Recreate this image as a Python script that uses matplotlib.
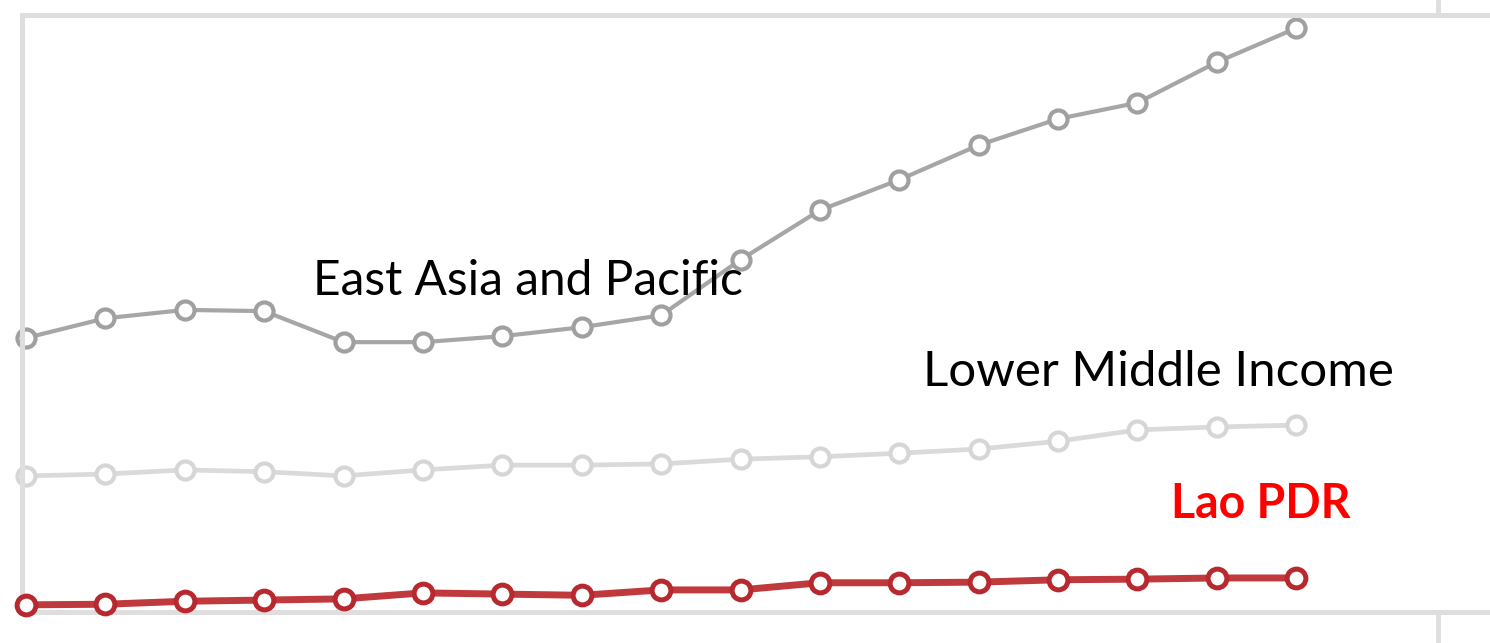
import numpy as np
import matplotlib.pyplot as plt

plt.rcParams['font.family'] = ['Lato', 'DejaVu Sans']

years = np.arange(17)
east_asia = [45.9, 49.2, 50.6, 50.4, 45.2, 45.2, 46.2, 47.7, 49.7, 59.0,
             67.3, 72.4, 78.2, 82.6, 85.3, 92.1, 97.8]
lower_middle = [22.8, 23.1, 23.8, 23.5, 22.8, 23.8, 24.6, 24.6, 24.8, 25.6,
                26.0, 26.6, 27.3, 28.6, 30.5, 31.0, 31.3]
lao_pdr = [1.2, 1.3, 1.8, 2.0, 2.2, 3.2, 3.0, 2.8, 3.7, 3.7,
           4.9, 4.9, 5.0, 5.4, 5.5, 5.7, 5.7]

fig = plt.figure(figsize=(14.9, 6.43), dpi=100)
ax = fig.add_axes([22/1490, 31/643, 1 - 22/1490, 597/643])

frame = '#dedede'
ax.plot(years, east_asia, '-o', color='#a6a6a6', lw=3.0, ms=13,
        mfc='white', mec='#a0a0a0', mew=3.0, clip_on=False)
ax.plot(years, lower_middle, '-o', color='#dadada', lw=3.4, ms=13,
        mfc='white', mec='#d6d6d6', mew=3.0, clip_on=False)
ax.plot(years, lao_pdr, '-o', color='#c0393d', lw=5.0, ms=13.5,
        mfc='white', mec='#b8292f', mew=3.6, clip_on=False, zorder=3)

ax.text(3.62, 55.5, 'East Asia and Pacific', fontsize=34.5, va='center', ha='left')
ax.text(11.3, 40.2, 'Lower Middle Income', fontsize=35.5, va='center', ha='left')
ax.text(14.42, 18.1, 'Lao PDR', fontsize=33.5, fontweight='bold', color='#ff0000',
        va='center', ha='left')

ax.set_xlim(-0.05, 18.44)
ax.set_ylim(0, 100)
ax.set_yticks([])
ax.set_xticks([17.78])
ax.set_xticklabels([])
ax.tick_params(axis='x', top=True, bottom=True, direction='out',
               color=frame, width=3.5)
ax.xaxis.set_tick_params(which='major', length=12)
for t in ax.xaxis.get_major_ticks():
    t.tick1line.set_markersize(25)
for side in ['left', 'top', 'bottom']:
    ax.spines[side].set_color(frame)
    ax.spines[side].set_linewidth(3.6)
ax.spines['right'].set_visible(False)

fig.savefig('out.png', dpi=100)
